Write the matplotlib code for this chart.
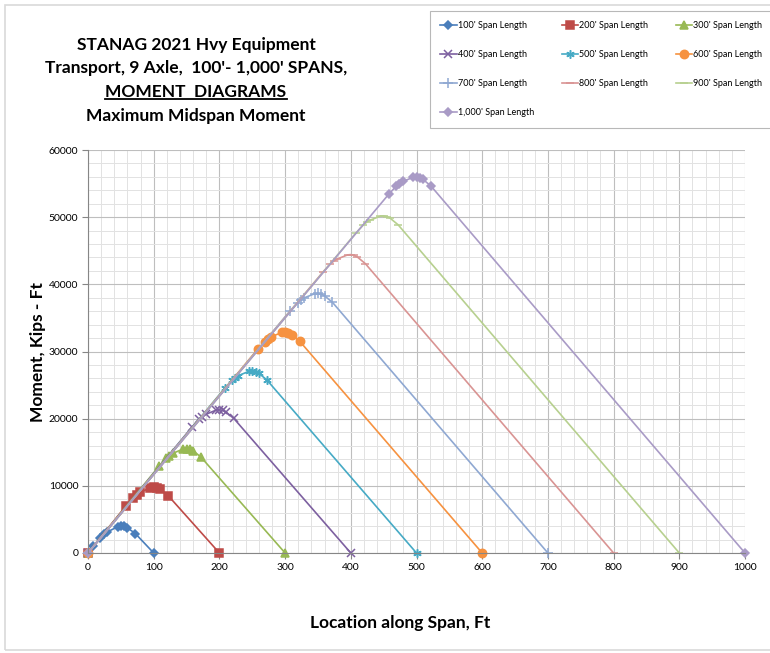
import matplotlib
matplotlib.use('Agg')
import matplotlib.pyplot as plt
from matplotlib.ticker import MultipleLocator
from matplotlib.lines import Line2D
from matplotlib.patches import Rectangle

plt.rcParams['font.family'] = ['Lato', 'DejaVu Sans']

# max midspan moment diagrams, one per span (x in ft, moment in kip-ft)
spans = [100, 200, 300, 400, 500, 600, 700, 800, 900, 1000]

x_100 = [0, 8, 19, 24, 29, 45, 50, 55, 60, 72, 100]
m_100 = [0, 1020, 2289, 2757, 3114, 3905, 4002, 3949, 3746, 2900, 0]
x_200 = [0, 58, 69, 74, 79, 95, 100, 105, 110, 122, 200]
m_200 = [0, 7045, 8249, 8687, 9014, 9710, 9777, 9694, 9462, 8543, 0]
x_300 = [0, 108, 119, 124, 129, 145, 150, 155, 160, 172, 300]
m_300 = [0, 12904, 14086, 14514, 14831, 15495, 15552, 15459, 15217, 14275, 0]
x_400 = [0, 158, 169, 174, 179, 195, 200, 205, 210, 222, 400]
m_400 = [0, 18721, 19892, 20314, 20627, 21275, 21327, 21229, 20982, 20028, 0]
x_500 = [0, 208, 219, 224, 229, 245, 250, 255, 260, 272, 500]
m_500 = [0, 24521, 25685, 26105, 26414, 27053, 27102, 27001, 26751, 25790, 0]
x_600 = [0, 258, 269, 274, 279, 295, 300, 305, 310, 322, 600]
m_600 = [0, 30312, 31473, 31890, 32198, 32830, 32877, 32774, 32522, 31556, 0]
x_700 = [0, 308, 319, 324, 329, 345, 350, 355, 360, 372, 700]
m_700 = [0, 36099, 37257, 37673, 37979, 38606, 38652, 38548, 38294, 37325, 0]
x_800 = [0, 358, 369, 374, 379, 395, 400, 405, 410, 422, 800]
m_800 = [0, 41883, 43038, 43453, 43758, 44382, 44427, 44322, 44067, 43095, 0]
x_900 = [0, 408, 419, 424, 429, 445, 450, 455, 460, 472, 900]
m_900 = [0, 47665, 48819, 49233, 49537, 50158, 50202, 50096, 49840, 48866, 0]
x_1000 = [0, 458, 469, 474, 479, 495, 500, 505, 510, 522, 1000]
m_1000 = [0, 53446, 54597, 55011, 55314, 55934, 55977, 55870, 55614, 54638, 0]

xs = [x_100, x_200, x_300, x_400, x_500, x_600, x_700, x_800, x_900, x_1000]
ms = [m_100, m_200, m_300, m_400, m_500, m_600, m_700, m_800, m_900, m_1000]

colors = ['#4A7EBB', '#BE4B48', '#98B954', '#7D60A0', '#46AAC5',
          '#F69240', '#8FA8D2', '#D99493', '#B7D08F', '#A99BC6']
markers = ['D', 's', '^', 'x', (6, 2, 0), 'o', '+', '_', '_', 'D']
msizes = [4, 6, 5.5, 5.5, 6, 6, 7, 6, 6, 4.5]

W, H = 770, 653
fig = plt.figure(figsize=(W / 100, H / 100), dpi=100)
fig.patches.append(Rectangle((5 / W, 3 / H), 1.0, 1 - 8 / H, transform=fig.transFigure,
                             fill=False, edgecolor='#D9D9D9', lw=1.2))

ax = fig.add_axes([88 / W, 1 - 553 / H, (745 - 88) / W, (553 - 150) / H])

handles = []
for s, x, m, c, mk, ms_ in zip(spans, xs, ms, colors, markers, msizes):
    h, = ax.plot(x, m, color=c, lw=1.2, marker=mk, ms=ms_, mec=c, mfc=c,
                 mew=1.1, clip_on=False, label=f"{s:,}' Span Length")
    handles.append(h)

ax.set_xlim(0, 1000)
ax.set_ylim(0, 60000)
ax.xaxis.set_major_locator(MultipleLocator(100))
ax.xaxis.set_minor_locator(MultipleLocator(20))
ax.yaxis.set_major_locator(MultipleLocator(10000))
ax.yaxis.set_minor_locator(MultipleLocator(2000))
ax.set_axisbelow(True)
ax.grid(which='major', color='#BEBEBE', lw=0.8)
ax.grid(which='minor', color='#E2E2E2', lw=0.7)
for side in ['top', 'right']:
    ax.spines[side].set_visible(False)
for side in ['left', 'bottom']:
    ax.spines[side].set_color('#868686')
ax.tick_params(which='major', length=4, color='#868686', labelsize=7.5, pad=3)
ax.tick_params(which='minor', length=0)

# title block
title_lines = ['STANAG 2021 Hvy Equipment', "Transport, 9 Axle,  100'- 1,000' SPANS,",
               'MOMENT  DIAGRAMS', 'Maximum Midspan Moment']
title_y = [45, 68, 92, 116]
texts = []
for t, y in zip(title_lines, title_y):
    texts.append(fig.text(196 / W, 1 - y / H, t, ha='center', va='center',
                          weight='bold', size=12.5))

fig.text(38 / W, 1 - 352 / H, 'Moment, Kips - Ft', rotation=90, ha='center',
         va='center', weight='bold', size=12.5)
fig.text(400 / W, 1 - 623 / H, 'Location along Span, Ft', ha='center',
         va='center', weight='bold', size=12.5)

order = [0, 3, 6, 9, 1, 4, 7, 2, 5, 8]
leg = fig.legend([handles[i] for i in order], [handles[i].get_label() for i in order],
                 ncol=3, loc='upper left', bbox_to_anchor=(425 / W, 1 - 6 / H),
                 fontsize=6.5, frameon=True, fancybox=False, handlelength=1.8,
                 labelspacing=2.2, columnspacing=3.1, borderpad=1.2, handletextpad=0.1)
leg.get_frame().set_edgecolor('#A6A6A6')
leg.get_frame().set_linewidth(0.8)

# underline the third title line
fig.canvas.draw()
bb = texts[2].get_window_extent().transformed(fig.transFigure.inverted())
fig.add_artist(Line2D([bb.x0, bb.x1], [bb.y0 + 1 / H, bb.y0 + 1 / H],
                      transform=fig.transFigure, color='black', lw=1.3))

fig.savefig('out.png', dpi=100)
